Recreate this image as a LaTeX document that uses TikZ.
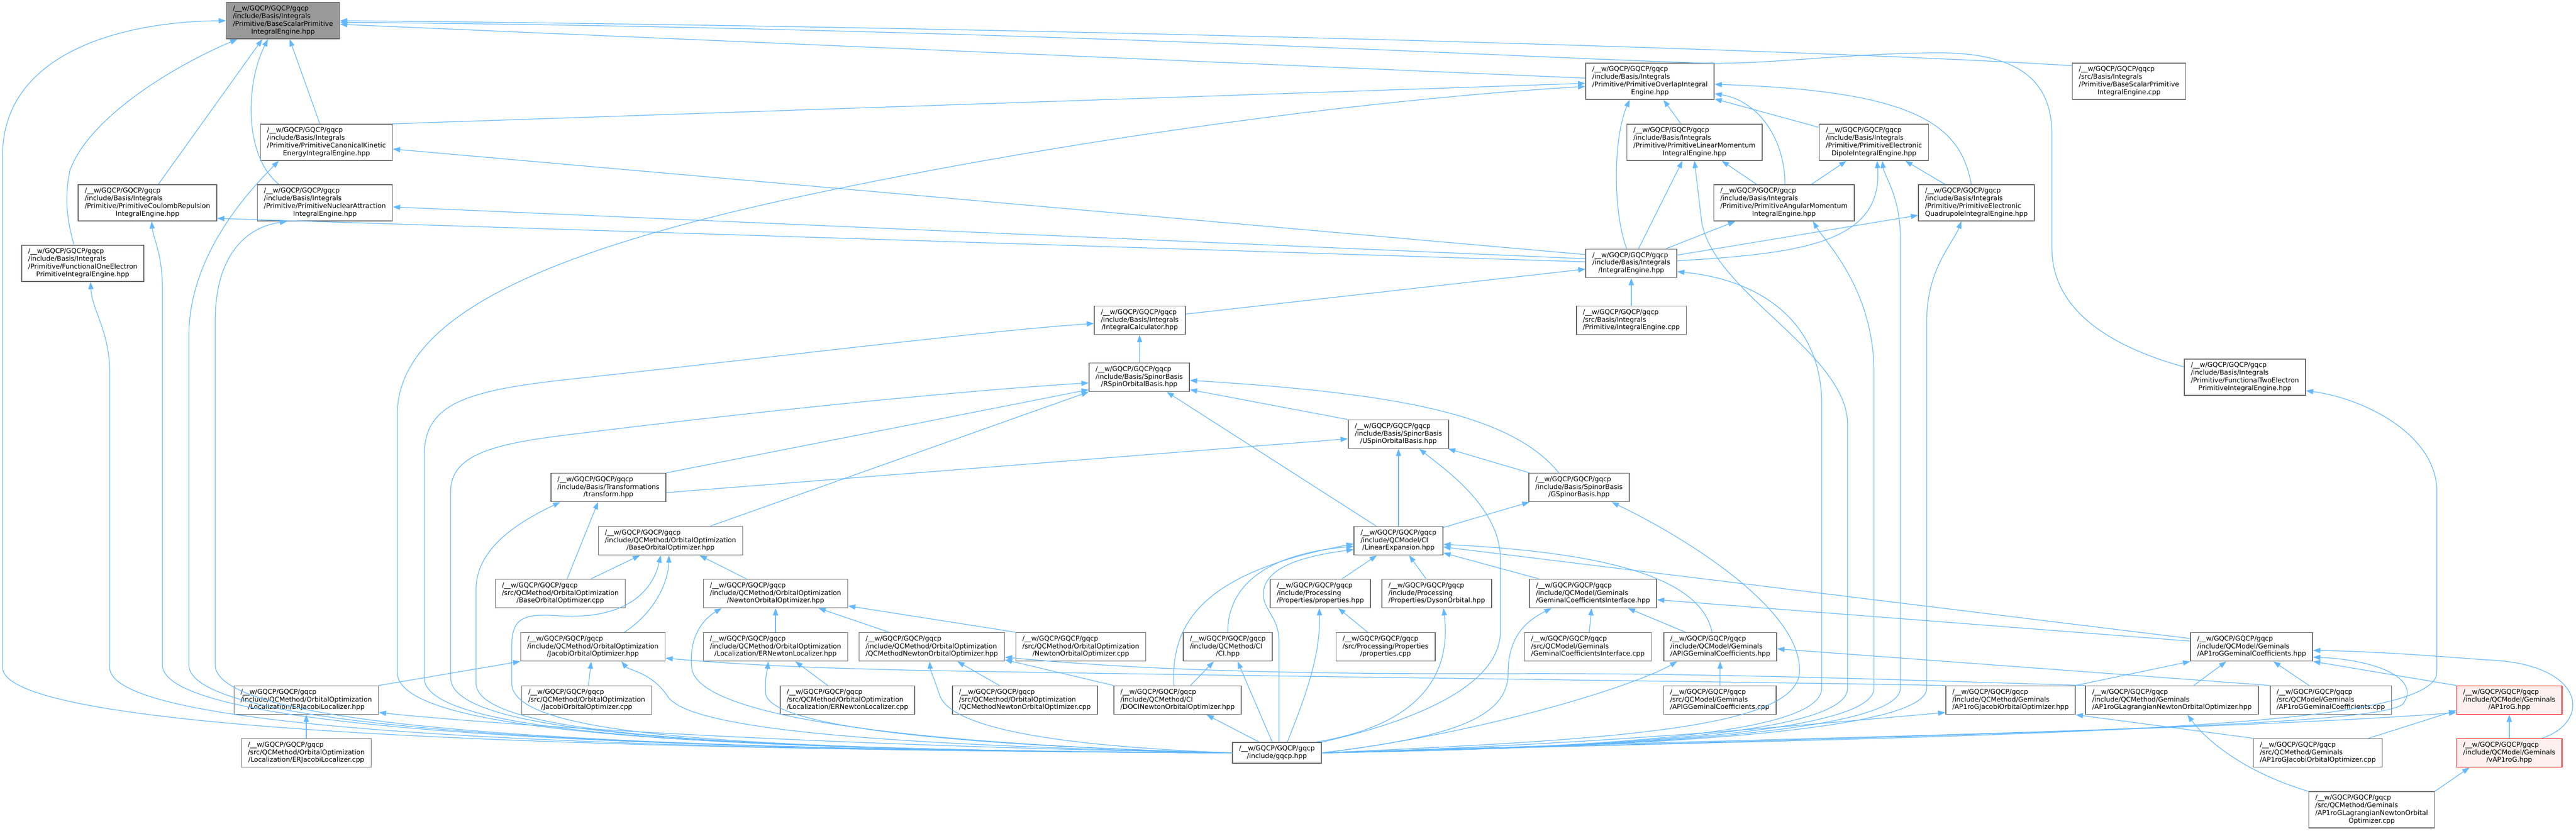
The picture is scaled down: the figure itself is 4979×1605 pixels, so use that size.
\documentclass[tikz,border=0pt]{standalone}
\usepackage{fontspec}
\setmainfont{DejaVu Sans}
\usetikzlibrary{arrows.meta}
\definecolor{edgeblue}{HTML}{63B8FF}
\definecolor{nodeborder}{HTML}{666666}
\definecolor{rootfill}{HTML}{999999}
\definecolor{truncred}{HTML}{FF0000}
\definecolor{truncfill}{HTML}{FFF0F0}
\newcommand{\wpath}{/\_\_w/GQCP/GQCP/gqcp}
\newcommand{\flbl}[2]{\begin{tabular}{@{}l@{}}#1\\\multicolumn{1}{@{}c@{}}{#2}\end{tabular}}
\begin{document}
\begin{tikzpicture}[x=0.01cm, y=-0.01cm,
        filebox/.style={draw=nodeborder, line width=0.45pt, fill=white, inner xsep=3.6pt, inner ysep=1.46pt, font=\fontsize{3.67}{4.24}\selectfont},
        rootbox/.style={filebox, fill=rootfill},
        truncbox/.style={filebox, draw=truncred, fill=truncfill},
        incl/.style={draw=edgeblue, line width=0.35pt, -{Triangle[length=0.14cm, width=0.1cm]}}]
        \fill[white] (0,0) rectangle (4979,1605);
        \useasboundingbox (0,0) rectangle (4979,1605);

        \node[rootbox] (bspie) at (547,40) {\flbl{\wpath\\/include/Basis/Integrals\\/Primitive/BaseScalarPrimitive}{IntegralEngine.hpp}};
        \node[filebox] (bspiecpp) at (4115,157) {\flbl{\wpath\\/src/Basis/Integrals\\/Primitive/BaseScalarPrimitive}{IntegralEngine.cpp}};
        \node[filebox] (overlap) at (3189,157) {\flbl{\wpath\\/include/Basis/Integrals\\/Primitive/PrimitiveOverlapIntegral}{Engine.hpp}};
        \node[filebox] (kinetic) at (631,275) {\flbl{\wpath\\/include/Basis/Integrals\\/Primitive/PrimitiveCanonicalKinetic}{EnergyIntegralEngine.hpp}};
        \node[filebox] (linmom) at (3275,275) {\flbl{\wpath\\/include/Basis/Integrals\\/Primitive/PrimitiveLinearMomentum}{IntegralEngine.hpp}};
        \node[filebox] (dipole) at (3622,275) {\flbl{\wpath\\/include/Basis/Integrals\\/Primitive/PrimitiveElectronic}{DipoleIntegralEngine.hpp}};
        \node[filebox] (coulomb) at (285,392) {\flbl{\wpath\\/include/Basis/Integrals\\/Primitive/PrimitiveCoulombRepulsion}{IntegralEngine.hpp}};
        \node[filebox] (nuclear) at (628,392) {\flbl{\wpath\\/include/Basis/Integrals\\/Primitive/PrimitiveNuclearAttraction}{IntegralEngine.hpp}};
        \node[filebox] (angmom) at (3448,392) {\flbl{\wpath\\/include/Basis/Integrals\\/Primitive/PrimitiveAngularMomentum}{IntegralEngine.hpp}};
        \node[filebox] (quadru) at (3820,392) {\flbl{\wpath\\/include/Basis/Integrals\\/Primitive/PrimitiveElectronic}{QuadrupoleIntegralEngine.hpp}};
        \node[filebox] (funcone) at (160,509) {\flbl{\wpath\\/include/Basis/Integrals\\/Primitive/FunctionalOneElectron}{PrimitiveIntegralEngine.hpp}};
        \node[filebox] (intenghpp) at (3153,509) {\flbl{\wpath\\/include/Basis/Integrals}{/IntegralEngine.hpp}};
        \node[filebox] (intengcpp) at (3153,619) {\flbl{\wpath\\/src/Basis/Integrals}{/Primitive/IntegralEngine.cpp}};
        \node[filebox] (intcalc) at (2203,619) {\flbl{\wpath\\/include/Basis/Integrals}{/IntegralCalculator.hpp}};
        \node[filebox] (rsob) at (2202,729) {\flbl{\wpath\\/include/Basis/SpinorBasis}{/RSpinOrbitalBasis.hpp}};
        \node[filebox] (functwo) at (4339,729) {\flbl{\wpath\\/include/Basis/Integrals\\/Primitive/FunctionalTwoElectron}{PrimitiveIntegralEngine.hpp}};
        \node[filebox] (usob) at (2703,839) {\flbl{\wpath\\/include/Basis/SpinorBasis}{/USpinOrbitalBasis.hpp}};
        \node[filebox] (transf) at (1176,942) {\flbl{\wpath\\/include/Basis/Transformations}{/transform.hpp}};
        \node[filebox] (gsb) at (3052,942) {\flbl{\wpath\\/include/Basis/SpinorBasis}{/GSpinorBasis.hpp}};
        \node[filebox] (linexp) at (2703,1045) {\flbl{\wpath\\/include/QCModel/CI}{/LinearExpansion.hpp}};
        \node[filebox] (baseoo) at (1296,1045) {\flbl{\wpath\\/include/QCMethod/OrbitalOptimization}{/BaseOrbitalOptimizer.hpp}};
        \node[filebox] (baseoocpp) at (1083,1147) {\flbl{\wpath\\/src/QCMethod/OrbitalOptimization}{/BaseOrbitalOptimizer.cpp}};
        \node[filebox] (newtonoo) at (1499,1147) {\flbl{\wpath\\/include/QCMethod/OrbitalOptimization}{/NewtonOrbitalOptimizer.hpp}};
        \node[filebox] (props) at (2552,1147) {\flbl{\wpath\\/include/Processing}{/Properties/properties.hpp}};
        \node[filebox] (dyson) at (2777,1147) {\flbl{\wpath\\/include/Processing}{/Properties/DysonOrbital.hpp}};
        \node[filebox] (gemif) at (3079,1147) {\flbl{\wpath\\/include/QCModel/Geminals}{/GeminalCoefficientsInterface.hpp}};
        \node[filebox] (jacobioo) at (1146,1250) {\flbl{\wpath\\/include/QCMethod/OrbitalOptimization}{/JacobiOrbitalOptimizer.hpp}};
        \node[filebox] (ernewtonhpp) at (1499,1250) {\flbl{\wpath\\/include/QCMethod/OrbitalOptimization}{/Localization/ERNewtonLocalizer.hpp}};
        \node[filebox] (qcmnewtonhpp) at (1801,1250) {\flbl{\wpath\\/include/QCMethod/OrbitalOptimization}{/QCMethodNewtonOrbitalOptimizer.hpp}};
        \node[filebox] (newtonoocpp) at (2089,1250) {\flbl{\wpath\\/src/QCMethod/OrbitalOptimization}{/NewtonOrbitalOptimizer.cpp}};
        \node[filebox] (ci) at (2373,1250) {\flbl{\wpath\\/include/QCMethod/CI}{/CI.hpp}};
        \node[filebox] (propscpp) at (2678,1250) {\flbl{\wpath\\/src/Processing/Properties}{/properties.cpp}};
        \node[filebox] (gemifcpp) at (3069,1250) {\flbl{\wpath\\/src/QCModel/Geminals}{/GeminalCoefficientsInterface.cpp}};
        \node[filebox] (apighpp) at (3325,1250) {\flbl{\wpath\\/include/QCModel/Geminals}{/APIGGeminalCoefficients.hpp}};
        \node[filebox] (ap1rogcoef) at (4352,1250) {\flbl{\wpath\\/include/QCModel/Geminals}{/AP1roGGeminalCoefficients.hpp}};
        \node[filebox] (erjacobihpp) at (592,1353) {\flbl{\wpath\\/include/QCMethod/OrbitalOptimization}{/Localization/ERJacobiLocalizer.hpp}};
        \node[filebox] (jacobioocpp) at (1134,1353) {\flbl{\wpath\\/src/QCMethod/OrbitalOptimization}{/JacobiOrbitalOptimizer.cpp}};
        \node[filebox] (ernewtoncpp) at (1638,1353) {\flbl{\wpath\\/src/QCMethod/OrbitalOptimization}{/Localization/ERNewtonLocalizer.cpp}};
        \node[filebox] (qcmnewtoncpp) at (1981,1353) {\flbl{\wpath\\/src/QCMethod/OrbitalOptimization}{/QCMethodNewtonOrbitalOptimizer.cpp}};
        \node[filebox] (doci) at (2276,1353) {\flbl{\wpath\\/include/QCMethod/CI}{/DOCINewtonOrbitalOptimizer.hpp}};
        \node[filebox] (apigcpp) at (3324,1353) {\flbl{\wpath\\/src/QCModel/Geminals}{/APIGGeminalCoefficients.cpp}};
        \node[filebox] (ap1rogjachpp) at (3886,1353) {\flbl{\wpath\\/include/QCMethod/Geminals}{/AP1roGJacobiOrbitalOptimizer.hpp}};
        \node[filebox] (ap1roglaghpp) at (4198,1353) {\flbl{\wpath\\/include/QCMethod/Geminals}{/AP1roGLagrangianNewtonOrbitalOptimizer.hpp}};
        \node[filebox] (ap1rogcoefcpp) at (4505,1353) {\flbl{\wpath\\/src/QCModel/Geminals}{/AP1roGGeminalCoefficients.cpp}};
        \node[truncbox] (ap1rog) at (4850,1353) {\flbl{\wpath\\/include/QCModel/Geminals}{/AP1roG.hpp}};
        \node[filebox] (erjacobicpp) at (592,1455) {\flbl{\wpath\\/src/QCMethod/OrbitalOptimization}{/Localization/ERJacobiLocalizer.cpp}};
        \node[filebox] (gqcp) at (2468,1455) {\flbl{\wpath}{/include/gqcp.hpp}};
        \node[filebox] (ap1rogjaccpp) at (4480,1455) {\flbl{\wpath\\/src/QCMethod/Geminals}{/AP1roGJacobiOrbitalOptimizer.cpp}};
        \node[truncbox] (vap1rog) at (4850,1455) {\flbl{\wpath\\/include/QCModel/Geminals}{/vAP1roG.hpp}};
        \node[filebox] (ap1roglagcpp) at (4584,1565) {\flbl{\wpath\\/src/QCMethod/Geminals\\/AP1roGLagrangianNewtonOrbital}{Optimizer.cpp}};

        \draw[incl] ([yshift=0.3cm]bspiecpp.west) .. controls (3500,95) and (2000,52) .. (bspie.east);
        \draw[incl] ([yshift=0.06cm]overlap.west) -- ([yshift=-0.07cm]bspie.east);
        \draw[incl] ([yshift=0.2cm]functwo.west) .. controls (4080,670) and (3966,600) .. (3966,480) -- (3966,260) .. controls (3966,140) and (3880,100) .. (3733,102) .. controls (3550,105) and (3420,124) .. (3306,122) .. controls (3000,115) and (2000,55) .. ([yshift=-0.03cm]bspie.east);
        \draw[incl] (kinetic) -- (bspie);
        \draw[incl] ([xshift=0.21cm]coulomb.north) -- ([xshift=-0.4cm]bspie.south);
        \draw[incl] ([xshift=-0.89cm]nuclear.north) .. controls (470,300) and (475,160) .. ([xshift=-0.29cm]bspie.south);
        \draw[incl] ([xshift=-0.17cm]funcone.north) .. controls (128,420) and (125,380) .. (135,330) .. controls (170,230) and (330,130) .. ([xshift=-0.88cm]bspie.south);

        \draw[incl] (kinetic.north east) -- ([yshift=-0.04cm]overlap.west);
        \draw[incl] (linmom) -- (overlap);
        \draw[incl] (dipole) -- (overlap);
        \draw[incl] ([xshift=0.02cm]angmom.north) .. controls (3450,270) and (3400,195) .. ([yshift=-0.24cm]overlap.east);
        \draw[incl] ([xshift=-0.1cm]quadru.north) .. controls (3790,240) and (3700,175) .. ([yshift=-0.06cm]overlap.east);
        \draw[incl] ([xshift=-0.09cm]intenghpp.north) .. controls (3115,400) and (3120,260) .. ([xshift=-0.39cm]overlap.south);
        \draw[incl] (angmom) -- (linmom);
        \draw[incl] ([xshift=0.14cm]intenghpp.north) -- ([xshift=-0.23cm]linmom.south);
        \draw[incl] (angmom) -- (dipole);
        \draw[incl] (quadru) -- (dipole);
        \draw[incl] ([yshift=0.05cm]intenghpp.east) .. controls (3480,490) and (3640,470) .. ([xshift=0.06cm]dipole.south);
        \draw[incl] ([xshift=0.67cm]intenghpp.north) -- ([xshift=-0.94cm]angmom.south);
        \draw[incl] ([yshift=0.16cm]intenghpp.east) -- ([yshift=-0.24cm]quadru.west);
        \draw[incl] ([yshift=0.17cm]intenghpp.west) -- ([yshift=-0.13cm]kinetic.east);
        \draw[incl] ([yshift=0.09cm]intenghpp.west) -- ([yshift=-0.08cm]nuclear.east);
        \draw[incl] ([yshift=0.03cm]intenghpp.west) -- ([yshift=-0.3cm]coulomb.east);
        \draw[incl] ([yshift=0.12cm]intcalc.east) -- ([yshift=-0.11cm]intenghpp.west);
        \draw[incl] (intengcpp) -- (intenghpp);

        \draw[incl] (rsob) -- (intcalc);
        \draw[incl] ([xshift=-0.43cm]linexp.north) -- ([xshift=0.53cm]rsob.south);
        \draw[incl] (usob.north west) -- ([yshift=-0.24cm]rsob.east);
        \draw[incl] ([xshift=-0.39cm]gsb.north) .. controls (2920,800) and (2700,760) .. ([yshift=-0.06cm]rsob.east);
        \draw[incl] (transf.north east) -- ([yshift=-0.24cm]rsob.west);
        \draw[incl] ([xshift=0.77cm]baseoo.north) -- (rsob.south west);
        \draw[incl] ([yshift=-0.1cm]transf.east) -- ([yshift=-0.09cm]usob.west);
        \draw[incl] (linexp) -- (usob);
        \draw[incl] (gsb) -- (usob);
        \draw[incl] (linexp) -- (gsb);

        \draw[incl] ([xshift=-0.07cm]doci.north) .. controls (2262,1200) and (2330,1105) .. ([yshift=-0.06cm]linexp.west);
        \draw[incl] (ci.north) .. controls (2373,1130) and (2450,1070) .. ([yshift=-0.11cm]linexp.west);
        \draw[incl] (props) -- (linexp);
        \draw[incl] (dyson) -- (linexp);
        \draw[incl] (gemif) -- (linexp);
        \draw[incl] ([xshift=-0.16cm]apighpp.north) .. controls (3290,1130) and (3150,1070) .. ([yshift=-0.07cm]linexp.east);
        \draw[incl] ([yshift=0.16cm]ap1rogcoef.west) -- ([yshift=-0.12cm]linexp.east);
        \draw[incl] ([yshift=0.11cm]ap1rogcoef.west) -- ([yshift=-0.12cm]gemif.east);
        \draw[incl] (apighpp) -- (gemif);
        \draw[incl] (gemifcpp) -- (gemif);
        \draw[incl] (apigcpp) -- (apighpp);
        \draw[incl] (ap1rogcoefcpp.north west) -- ([yshift=-0.04cm]apighpp.east);
        \draw[incl] (ap1rogjachpp.north east) -- (ap1rogcoef.south west);
        \draw[incl] ([xshift=0.42cm]ap1roglaghpp.north) -- ([xshift=-0.49cm]ap1rogcoef.south);
        \draw[incl] (ap1rogcoefcpp) -- (ap1rogcoef);
        \draw[incl] (ap1rog.north west) -- (ap1rogcoef.south east);
        \draw[incl] ([xshift=0.63cm]vap1rog.north) .. controls (5010,1395) and (5000,1280) .. (4800,1275) .. controls (4650,1263) and (4550,1258) .. ([yshift=-0.07cm]ap1rogcoef.east);
        \draw[incl] (vap1rog) -- (ap1rog);
        \draw[incl] ([xshift=0.98cm]ap1rogjaccpp.north) -- ([yshift=-0.2cm]ap1rog.west);
        \draw[incl] (ap1roglagcpp.north east) -- ([xshift=-0.77cm]vap1rog.south);
        \draw[incl] (ap1roglagcpp.north west) .. controls (4330,1490) and (4260,1425) .. ([xshift=0.3cm]ap1roglaghpp.south);
        \draw[incl] (ap1rogjaccpp.north west) -- (ap1rogjachpp.south east);
        \draw[incl] ([xshift=0.25cm]doci.north) -- ([xshift=-0.27cm]ci.south);
        \draw[incl] (propscpp) -- (props);

        \draw[incl] (ap1rogjachpp.north west) .. controls (3400,1318) and (2500,1308) .. (1800,1296) .. controls (1500,1290) and (1380,1280) .. ([yshift=-0.22cm]jacobioo.east);
        \draw[incl] (erjacobihpp.north east) -- (jacobioo.south west);
        \draw[incl] (jacobioocpp) -- (jacobioo);
        \draw[incl] ([xshift=0.61cm]jacobioo.north) .. controls (1270,1180) and (1292,1120) .. ([xshift=-0.03cm]baseoo.south);
        \draw[incl] (doci.north west) -- ([yshift=-0.25cm]qcmnewtonhpp.east);
        \draw[incl] (ap1roglaghpp.north west) .. controls (3700,1315) and (3300,1300) .. (2900,1302) .. controls (2500,1303) and (2200,1295) .. ([yshift=-0.2cm]qcmnewtonhpp.east);
        \draw[incl] (qcmnewtoncpp) -- (qcmnewtonhpp);
        \draw[incl] (qcmnewtonhpp) -- (newtonoo);
        \draw[incl] (ernewtonhpp) -- (newtonoo);
        \draw[incl] (newtonoocpp.north west) -- ([yshift=-0.24cm]newtonoo.east);
        \draw[incl] (newtonoo) -- (baseoo);
        \draw[incl] (ernewtoncpp) -- (ernewtonhpp);
        \draw[incl] (baseoocpp) -- (baseoo);
        \draw[incl] ([xshift=0.13cm]baseoocpp.north) -- ([xshift=-0.2cm]transf.south);
        \draw[incl] (erjacobicpp) -- (erjacobihpp);

        \draw[incl] (gqcp.west) .. controls (1400,1450) and (5,1430) .. (5,1290) -- (5,300) .. controls (5,110) and (220,42) .. (bspie.west);
        \draw[incl] (gqcp.west) .. controls (1400,1450) and (212,1430) .. (212,1290) -- (212,720) .. controls (212,640) and (178,600) .. ([xshift=0.15cm]funcone.south);
        \draw[incl] (gqcp.west) .. controls (1400,1450) and (314,1425) .. (314,1285) -- (314,560) .. controls (314,490) and (296,460) .. ([xshift=0.08cm]coulomb.south);
        \draw[incl] (gqcp.west) .. controls (1400,1450) and (365,1425) .. (365,1285) -- (365,650) .. controls (365,500) and (470,380) .. ([xshift=-0.92cm]kinetic.south);
        \draw[incl] (gqcp.west) .. controls (1400,1450) and (416,1425) .. (416,1285) -- (416,620) .. controls (416,500) and (470,440) .. ([xshift=-0.73cm]nuclear.south);
        \draw[incl] (gqcp.west) .. controls (1400,1450) and (768,1420) .. (768,1300) -- (768,800) .. controls (768,600) and (1100,480) .. (1500,390) .. controls (2000,280) and (2600,195) .. ([yshift=-0.1cm]overlap.west);
        \draw[incl] (gqcp.west) .. controls (1400,1450) and (820,1420) .. (820,1310) -- (820,880) .. controls (820,780) and (900,755) .. (1100,733) .. controls (1500,690) and (1900,640) .. ([yshift=-0.06cm]intcalc.west);
        \draw[incl] (gqcp.west) .. controls (1400,1450) and (871,1420) .. (871,1310) -- (871,950) .. controls (871,880) and (950,858) .. (1100,840) .. controls (1500,790) and (1900,752) .. ([yshift=-0.11cm]rsob.west);
        \draw[incl] (gqcp.west) .. controls (1400,1450) and (920,1420) .. (920,1320) -- (920,1140) .. controls (920,1060) and (1000,1010) .. ([xshift=-0.93cm]transf.south);
        \draw[incl] (gqcp.west) .. controls (1400,1450) and (989,1420) .. (989,1320) -- (989,1250) .. controls (989,1195) and (1010,1185) .. (1080,1190) .. controls (1200,1198) and (1260,1150) .. ([xshift=-0.19cm]baseoo.south);
        \draw[incl] (gqcp.west) .. controls (1500,1440) and (900,1395) .. ([yshift=-0.24cm]erjacobihpp.east);
        \draw[incl] (gqcp.west) .. controls (1700,1440) and (1330,1410) .. (1290,1345) .. controls (1260,1300) and (1215,1295) .. ([xshift=0.55cm]jacobioo.south);
        \draw[incl] (gqcp.west) .. controls (1800,1440) and (1345,1390) .. (1337,1290) .. controls (1330,1220) and (1370,1190) .. ([xshift=-1.04cm]newtonoo.south);
        \draw[incl] (gqcp.west) .. controls (1800,1440) and (1485,1400) .. (1480,1340) .. controls (1478,1310) and (1483,1295) .. ([xshift=-0.14cm]ernewtonhpp.south);
        \draw[incl] (gqcp.west) .. controls (2000,1440) and (1830,1400) .. (1815,1340) .. controls (1805,1310) and (1798,1295) .. ([xshift=-0.04cm]qcmnewtonhpp.south);
        \draw[incl] ([xshift=-0.34cm]gqcp.north) -- ([xshift=0.56cm]doci.south);
        \draw[incl] ([xshift=-0.09cm]gqcp.north) -- ([xshift=0.19cm]ci.south);
        \draw[incl] ([xshift=0.04cm]gqcp.north) -- (2472,1240) .. controls (2472,1190) and (2440,1180) .. (2442,1145) .. controls (2445,1090) and (2540,1072) .. ([yshift=-0.17cm]linexp.west);
        \draw[incl] ([xshift=0.2cm]gqcp.north) .. controls (2530,1330) and (2552,1260) .. ([xshift=-0.02cm]props.south);
        \draw[incl] ([xshift=0.75cm]gqcp.north) .. controls (2750,1400) and (2805,1300) .. ([xshift=0.13cm]dyson.south);
        \draw[incl] (gqcp.north east) .. controls (2750,1390) and (2900,1320) .. (2900,1220) -- (2900,1080) .. controls (2900,980) and (2790,905) .. ([xshift=0.4cm]usob.south);
        \draw[incl] (gqcp.east) .. controls (2800,1425) and (2915,1390) .. (2915,1300) .. controls (2915,1230) and (2950,1200) .. ([xshift=-0.8cm]gemif.south);
        \draw[incl] (gqcp.east) .. controls (2850,1420) and (3150,1330) .. ([xshift=-0.83cm]apighpp.south);
        \draw[incl] (gqcp.east) .. controls (3100,1430) and (3470,1410) .. (3478,1300) .. controls (3485,1180) and (3260,1040) .. ([xshift=0.63cm]gsb.south);
        \draw[incl] (gqcp.east) .. controls (3100,1445) and (3521,1420) .. (3521,1330) -- (3521,780) .. controls (3521,620) and (3400,540) .. ([yshift=-0.16cm]intenghpp.east);
        \draw[incl] (gqcp.east) .. controls (3100,1445) and (3571,1420) .. (3571,1330) -- (3571,820) .. controls (3571,680) and (3300,560) .. (3288,420) -- (linmom.south);
        \draw[incl] (gqcp.east) .. controls (3100,1445) and (3622,1420) .. (3622,1330) -- (3622,720) .. controls (3622,560) and (3530,470) .. ([xshift=0.56cm]angmom.south);
        \draw[incl] (gqcp.east) .. controls (3100,1445) and (3673,1420) .. (3673,1330) -- (3673,460) .. controls (3673,380) and (3642,340) .. ([xshift=0.16cm]dipole.south);
        \draw[incl] (gqcp.east) .. controls (3100,1445) and (3724,1420) .. (3724,1330) -- (3724,620) .. controls (3724,520) and (3775,470) .. ([xshift=-0.29cm]quadru.south);
        \draw[incl] (gqcp.east) .. controls (3100,1440) and (3550,1395) .. ([yshift=-0.24cm]ap1rogjachpp.west);
        \draw[incl] (gqcp.east) .. controls (3500,1430) and (4400,1405) .. ([yshift=-0.24cm]ap1rog.west);
        \draw[incl] (gqcp.east) .. controls (3600,1420) and (4600,1410) .. (4645,1360) .. controls (4680,1310) and (4590,1275) .. ([yshift=-0.2cm]ap1rogcoef.east);
        \draw[incl] (gqcp.east) .. controls (3800,1420) and (4705,1420) .. (4710,1300) -- (4710,950) .. controls (4710,840) and (4570,770) .. ([yshift=-0.26cm]functwo.east);
\end{tikzpicture}
\end{document}
